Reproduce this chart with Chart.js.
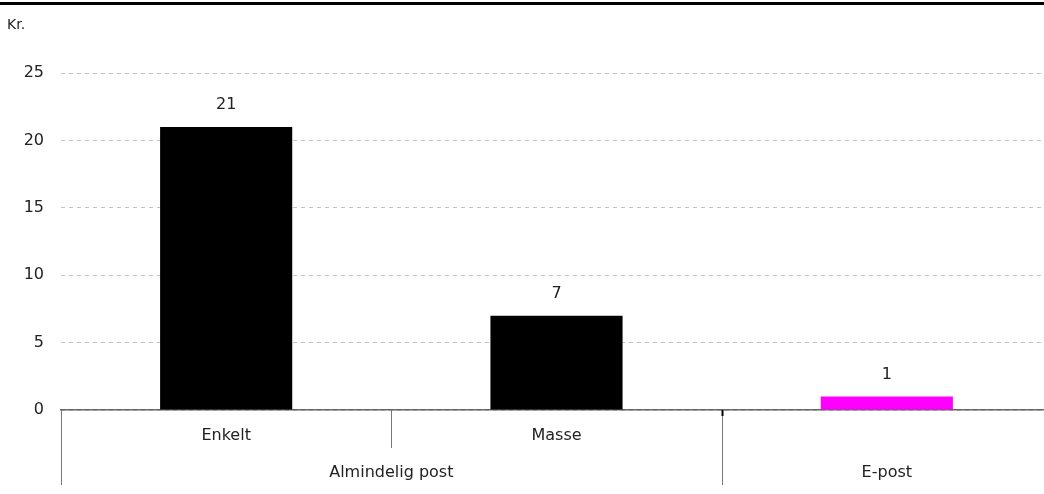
<!DOCTYPE html>
<html>
<head>
<meta charset="utf-8">
<script src="https://cdn.jsdelivr.net/npm/chart.js@4.4.0/dist/chart.umd.min.js"></script>
<style>
  html, body { margin: 0; padding: 0; background: #fff; overflow: hidden; width: 1044px; height: 494px; }
  #wrap { position: relative; width: 1044px; height: 494px; overflow: hidden; }
  #rule { position: absolute; left: 0; top: 2px; width: 1044px; height: 3px; background: #000; }
  canvas { position: absolute; left: 0; top: 0; }
</style>
</head>
<body>
<div id="wrap">
  <canvas id="c" width="1062" height="494"></canvas>
  <div id="rule"></div>
</div>
<script>
const categories = ["Enkelt", "Masse", "E-post"];
const groups = ["Almindelig post", "Almindelig post", "E-post"];
const values = [21, 7, 1];
const barColors = ["#000000", "#000000", "#ff00ff"];
const yTicks = [0, 5, 10, 15, 20, 25];
const yUnit = "Kr.";

const FONT = "'DejaVu Sans', Verdana, sans-serif";

const overlay = {
  id: 'overlay',
  afterDraw(chart) {
    const ctx = chart.ctx;
    const x = chart.scales.x;
    const area = chart.chartArea;
    ctx.save();
    ctx.fillStyle = '#222';
    ctx.font = "14px " + FONT;
    ctx.textAlign = 'left';
    ctx.textBaseline = 'middle';
    ctx.fillText(yUnit, 7, 25);

    ctx.font = "16px " + FONT;
    ctx.textAlign = 'center';
    const meta = chart.getDatasetMeta(0);
    meta.data.forEach((bar, i) => {
      ctx.fillText(String(values[i]), bar.x, bar.y - 22);
    });

    const n = categories.length;
    const half = (x.getPixelForValue(1) - x.getPixelForValue(0)) / 2;
    const edges = [];
    for (let i = 0; i <= n; i++) {
      edges.push(i < n ? x.getPixelForValue(i) - half : x.getPixelForValue(n - 1) + half);
    }
    const y0 = area.bottom;
    ctx.lineWidth = 1;
    for (let i = 0; i < n; i++) {
      ctx.fillStyle = '#222';
      const isGroupStart = i === 0 || groups[i] !== groups[i - 1];
      const groupSize = groups.filter(g => g === groups[i]).length;
      if (groupSize > 1) {
        ctx.fillText(categories[i], x.getPixelForValue(i), y0 + 26);
      }
      const ex = Math.round(edges[i]) + 0.5;
      ctx.strokeStyle = '#777';
      ctx.beginPath();
      ctx.moveTo(ex, y0);
      ctx.lineTo(ex, isGroupStart ? y0 + 75 : y0 + 38);
      ctx.stroke();
      if (isGroupStart && i > 0) {
        ctx.strokeStyle = '#000';
        ctx.lineWidth = 2;
        ctx.beginPath();
        ctx.moveTo(ex, y0);
        ctx.lineTo(ex, y0 + 6);
        ctx.stroke();
        ctx.lineWidth = 1;
      }
    }
    let start = 0;
    for (let i = 1; i <= n; i++) {
      if (i === n || groups[i] !== groups[start]) {
        const cx = (edges[start] + edges[i]) / 2;
        ctx.fillStyle = '#222';
        ctx.fillText(groups[start], cx, y0 + 63);
        start = i;
      }
    }
    ctx.restore();
  }
};

new Chart(document.getElementById('c'), {
  type: 'bar',
  data: {
    labels: categories,
    datasets: [{
      data: values,
      backgroundColor: barColors,
      borderWidth: 0,
      barPercentage: 0.4,
      categoryPercentage: 1.0
    }]
  },
  options: {
    responsive: false,
    animation: false,
    devicePixelRatio: 1,
    layout: { padding: { top: 73, right: 10, bottom: 84, left: 0 } },
    plugins: { legend: { display: false }, tooltip: { enabled: false }, title: { display: false } },
    scales: {
      x: {
        grid: { display: false, drawTicks: false },
        border: { display: true, color: '#666', width: 1.5 },
        ticks: { display: false }
      },
      y: {
        min: 0, max: 25,
        afterFit(scale) { scale.width = 61; },
        afterBuildTicks(scale) { scale.ticks = yTicks.map(v => ({ value: v })); },
        grid: { color: '#c4c4c4', drawTicks: false, lineWidth: 1 },
        border: { display: false, dash: [4, 4] },
        ticks: { padding: 17, color: '#222', font: { family: FONT, size: 16 } }
      }
    }
  },
  plugins: [overlay]
});
</script>
</body>
</html>
